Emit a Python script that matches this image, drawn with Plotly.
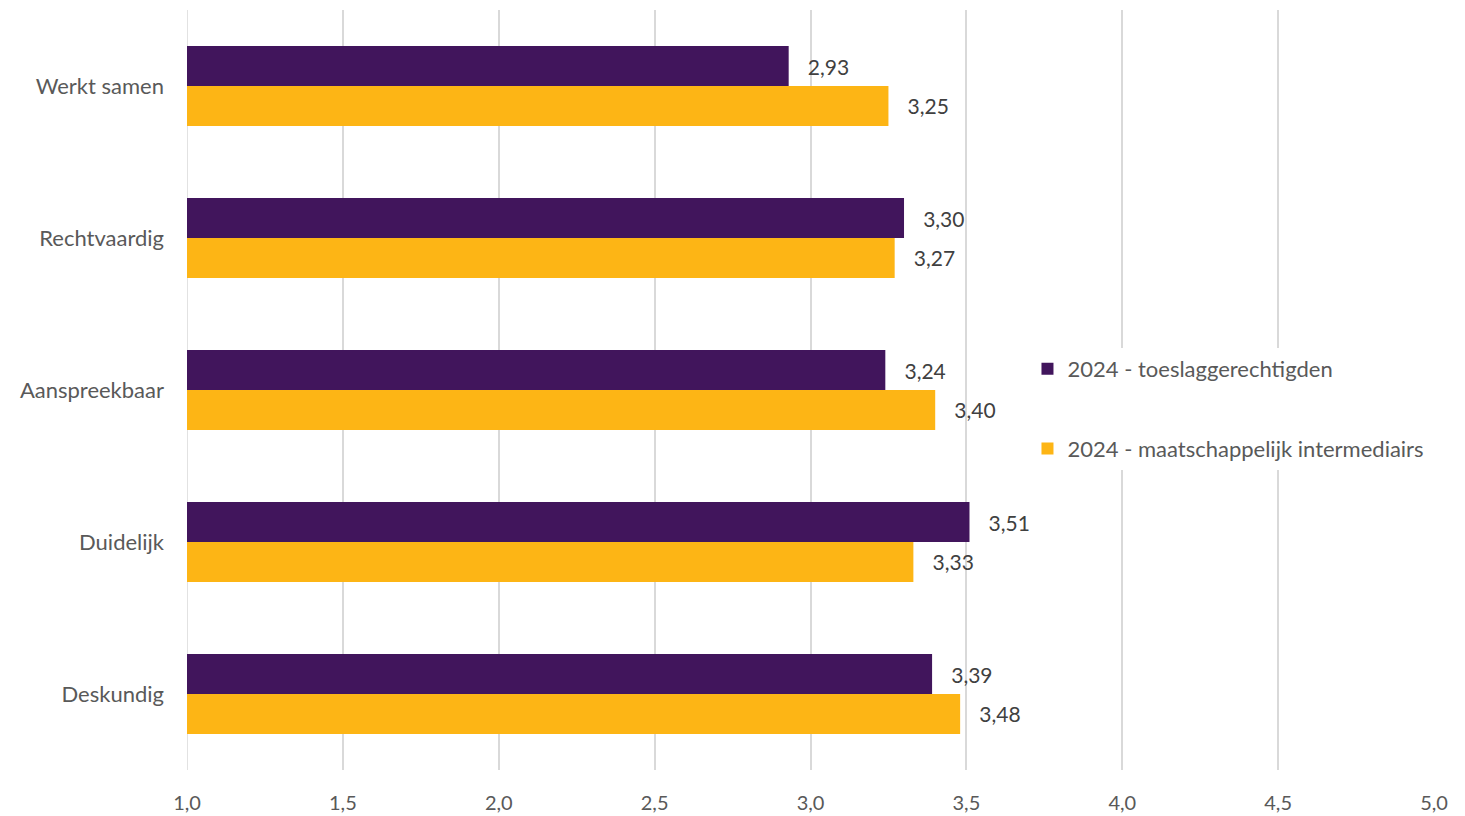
import plotly.graph_objects as go

categories = ["Werkt samen", "Rechtvaardig", "Aanspreekbaar", "Duidelijk", "Deskundig"]
series_names = ["2024 - toeslaggerechtigden", "2024 - maatschappelijk intermediairs"]
toeslag = [2.93, 3.30, 3.24, 3.51, 3.39]
intermediairs = [3.25, 3.27, 3.40, 3.33, 3.48]
x_ticks = [1.0, 1.5, 2.0, 2.5, 3.0, 3.5, 4.0, 4.5, 5.0]

colors = ["#41155C", "#FDB515"]
FONT = "Lato"

fig = go.Figure()
for i, (name, vals) in enumerate(zip(series_names, [toeslag, intermediairs])):
    fig.add_trace(go.Bar(
        y=categories, x=vals, base=0, orientation="h", name=name,
        marker=dict(color=colors[i], line=dict(width=0)),
        texttemplate="   %{x:.2f}", textposition="outside",
        textfont=dict(family=FONT, size=21, color="#404040"),
        cliponaxis=False, legendgroup=f"g{i}",
    ))

# first gridline (at the left edge of the plot), which plotly hides by default
fig.add_shape(type="line", xref="x", yref="paper",
              x0=x_ticks[0], x1=x_ticks[0], y0=0, y1=1,
              line=dict(color="#D9D9D9", width=1.5), layer="below")

fig.update_layout(
    width=1465, height=816,
    margin=dict(l=179, r=39, t=2, b=54),
    paper_bgcolor="white", plot_bgcolor="white",
    separators=",.",
    barmode="group", bargap=0.474, bargroupgap=0,
    font=dict(family=FONT, size=22, color="#595959"),
    showlegend=True,
    legend=dict(
        x=0.674, y=0.475, xanchor="left", yanchor="middle",
        bgcolor="white", font=dict(family=FONT, size=22, color="#595959"),
        traceorder="grouped", tracegroupgap=48,
        itemsizing="constant",
    ),
    xaxis=dict(
        range=[1.0, 5.0], tickvals=x_ticks, tickformat=".1f",
        showgrid=True, gridcolor="#D9D9D9", gridwidth=1.5,
        zeroline=False, showline=False, ticks="",
        tickfont=dict(family=FONT, size=20, color="#595959"),
        ticklabelstandoff=19,
    ),
    yaxis=dict(
        categoryorder="array", categoryarray=categories,
        range=[4.5, -0.5], showgrid=False, zeroline=False, showline=False,
        ticks="", ticklabelstandoff=22,
        tickfont=dict(family=FONT, size=22, color="#595959"),
    ),
)

fig.write_html("out.html")
